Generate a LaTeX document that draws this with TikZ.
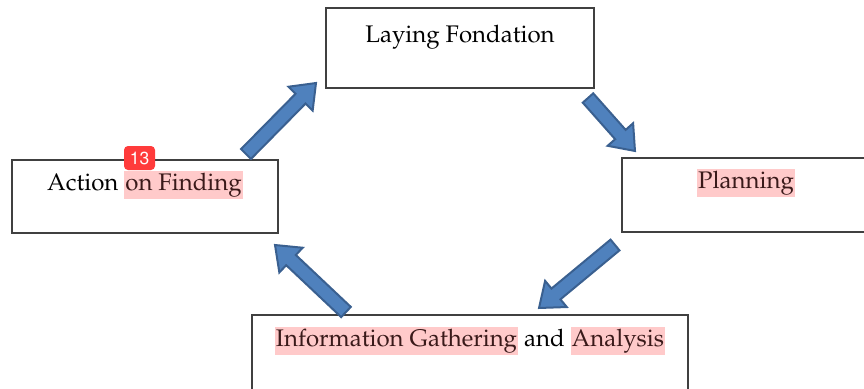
\documentclass[tikz,border=0pt]{standalone}
\usepackage[T1]{fontenc}
\usepackage{mathpazo}
\usepackage[scaled=0.92]{helvet}
\usetikzlibrary{calc,positioning}

\definecolor{edgegrey}{HTML}{404040}
\definecolor{arrowfill}{HTML}{4F81BD}
\definecolor{arrowline}{HTML}{3A6090}
\definecolor{markpink}{HTML}{FFCACA}
\definecolor{markink}{HTML}{3A1A1A}
\definecolor{badgered}{HTML}{FF3B3B}

\newcommand{\hlt}[1]{{\setlength{\fboxsep}{0pt}\colorbox{markpink}{\color{markink}\strut\kern1pt #1\kern1pt}}}

\tikzset{
  stage/.style={draw=edgegrey, line width=1.5pt, fill=white, inner sep=0pt},
  stagetext/.style={anchor=base, font=\fontsize{24}{28}\selectfont, inner sep=0pt},
  badge/.style={fill=badgered, rounded corners=4pt, text=white,
    font=\fontfamily{phv}\selectfont\fontsize{19}{21}\selectfont,
    minimum width=31pt, minimum height=24pt, inner sep=0pt},
  arrowbody/.style={fill=arrowfill, draw=arrowline, line width=2pt},
  blockarrow/.pic={
    \path[arrowbody] (0pt,-7pt) -- ({#1-22pt},-7pt) -- ({#1-22pt},-17pt)
      -- (#1,0pt) -- ({#1-22pt},17pt) -- ({#1-22pt},7pt) -- (0pt,7pt) -- cycle;
  }
}

\begin{document}
\begin{tikzpicture}[x=1pt,y=-1pt]
    \useasboundingbox (0,0) rectangle (864,388);

    % the four stages
    \node[stage, minimum width=268pt, minimum height=80pt] (found) at (460,48) {};
    \node[stage, minimum width=248pt, minimum height=74pt] (plan) at (746,195) {};
    \node[stage, minimum width=436pt, minimum height=82pt] (info) at (470,356) {};
    \node[stage, minimum width=266pt, minimum height=73pt] (act) at (145,196.5) {};

    \node[stagetext] (foundtxt) at ([yshift=-35pt]found.north) {Laying Fondation};
    \node[stagetext] (plantxt) at ([yshift=-31pt]plan.north) {\hlt{Planning}};
    \node[stagetext] (infotxt) at ([yshift=-32pt]info.north)
      {\hlt{Information Gathering} and \hlt{Analysis}};
    \node[stagetext] (acttxt) at ([yshift=-31pt]act.north) {Action \hlt{on Finding}};

    \node[badge] (count) at (139.5,158) {13};

    % block arrows between the stages
    \coordinate (a1s) at (246,154);
    \coordinate (a1e) at (316,83);
    \coordinate (a2s) at (588,98);
    \coordinate (a2e) at (635,151);
    \coordinate (a3s) at (615,245);
    \coordinate (a3e) at (539,308);
    \coordinate (a4s) at (346,312);
    \coordinate (a4e) at (275,245);

    \foreach \s/\e in {a1s/a1e,a2s/a2e,a3s/a3e,a4s/a4e}
      \path let \p1=(\s), \p2=(\e), \n1={atan2(\y2-\y1,\x2-\x1)},
        \n2={veclen(\x2-\x1,\y2-\y1)} in pic[rotate=\n1] at (\s) {blockarrow=\n2};
\end{tikzpicture}
\end{document}
